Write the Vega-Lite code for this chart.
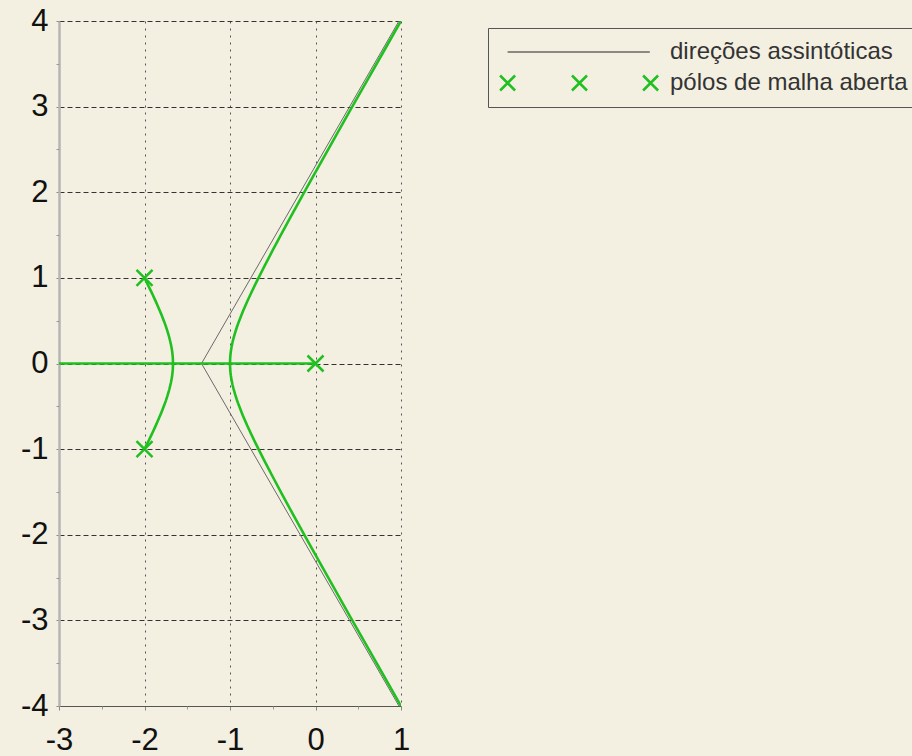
{
  "$schema": "https://vega.github.io/schema/vega-lite/v6.json",
  "width": 342,
  "height": 685,
  "autosize": {"type": "none"},
  "padding": {"left": 59, "top": 21, "right": 511, "bottom": 50},
  "background": "#f3efe1",
  "config": {
    "view": {"stroke": null},
    "font": "Liberation Sans",
    "axis": {"labelFont": "Liberation Sans", "titleFont": "Liberation Sans"},
    "legend": {"labelFont": "Liberation Sans"}
  },
  "datasets": {
    "asym": [
      {"b": "up", "i": 0, "x": -1.3333, "y": 0},
      {"b": "up", "i": 1, "x": 0.9761, "y": 4},
      {"b": "dn", "i": 0, "x": -1.3333, "y": 0},
      {"b": "dn", "i": 1, "x": 0.9761, "y": -4}
    ],
    "locus": [
      {"b": "R", "i": 0, "x": -3, "y": 0},
      {"b": "R", "i": 1, "x": 0, "y": 0},
      {"b": "L", "i": 0, "x": -2, "y": 1},
      {"b": "L", "i": 1, "x": -1.97, "y": 0.9395},
      {"b": "L", "i": 2, "x": -1.95, "y": 0.8986},
      {"b": "L", "i": 3, "x": -1.92, "y": 0.8362},
      {"b": "L", "i": 4, "x": -1.9, "y": 0.7937},
      {"b": "L", "i": 5, "x": -1.87, "y": 0.7285},
      {"b": "L", "i": 6, "x": -1.85, "y": 0.6837},
      {"b": "L", "i": 7, "x": -1.82, "y": 0.6142},
      {"b": "L", "i": 8, "x": -1.8, "y": 0.5657},
      {"b": "L", "i": 9, "x": -1.77, "y": 0.4886},
      {"b": "L", "i": 10, "x": -1.75, "y": 0.433},
      {"b": "L", "i": 11, "x": -1.73, "y": 0.3724},
      {"b": "L", "i": 12, "x": -1.71, "y": 0.3038},
      {"b": "L", "i": 13, "x": -1.69, "y": 0.2198},
      {"b": "L", "i": 14, "x": -1.68, "y": 0.1649},
      {"b": "L", "i": 15, "x": -1.675, "y": 0.1299},
      {"b": "L", "i": 16, "x": -1.67, "y": 0.0819},
      {"b": "L", "i": 17, "x": -1.668, "y": 0.0517},
      {"b": "L", "i": 18, "x": -1.6667, "y": 0},
      {"b": "L", "i": 19, "x": -1.668, "y": -0.0517},
      {"b": "L", "i": 20, "x": -1.67, "y": -0.0819},
      {"b": "L", "i": 21, "x": -1.675, "y": -0.1299},
      {"b": "L", "i": 22, "x": -1.68, "y": -0.1649},
      {"b": "L", "i": 23, "x": -1.69, "y": -0.2198},
      {"b": "L", "i": 24, "x": -1.71, "y": -0.3038},
      {"b": "L", "i": 25, "x": -1.73, "y": -0.3724},
      {"b": "L", "i": 26, "x": -1.75, "y": -0.433},
      {"b": "L", "i": 27, "x": -1.77, "y": -0.4886},
      {"b": "L", "i": 28, "x": -1.8, "y": -0.5657},
      {"b": "L", "i": 29, "x": -1.82, "y": -0.6142},
      {"b": "L", "i": 30, "x": -1.85, "y": -0.6837},
      {"b": "L", "i": 31, "x": -1.87, "y": -0.7285},
      {"b": "L", "i": 32, "x": -1.9, "y": -0.7937},
      {"b": "L", "i": 33, "x": -1.92, "y": -0.8362},
      {"b": "L", "i": 34, "x": -1.95, "y": -0.8986},
      {"b": "L", "i": 35, "x": -1.97, "y": -0.9395},
      {"b": "L", "i": 36, "x": -2, "y": -1},
      {"b": "C", "i": 0, "x": 1, "y": 4},
      {"b": "C", "i": 1, "x": 0.8, "y": 3.6497},
      {"b": "C", "i": 2, "x": 0.6, "y": 3.2985},
      {"b": "C", "i": 3, "x": 0.4, "y": 2.9462},
      {"b": "C", "i": 4, "x": 0.2, "y": 2.5923},
      {"b": "C", "i": 5, "x": 0, "y": 2.2361},
      {"b": "C", "i": 6, "x": -0.1, "y": 2.0567},
      {"b": "C", "i": 7, "x": -0.2, "y": 1.8762},
      {"b": "C", "i": 8, "x": -0.3, "y": 1.6941},
      {"b": "C", "i": 9, "x": -0.4, "y": 1.51},
      {"b": "C", "i": 10, "x": -0.5, "y": 1.3229},
      {"b": "C", "i": 11, "x": -0.6, "y": 1.1314},
      {"b": "C", "i": 12, "x": -0.7, "y": 0.9327},
      {"b": "C", "i": 13, "x": -0.75, "y": 0.8292},
      {"b": "C", "i": 14, "x": -0.8, "y": 0.7211},
      {"b": "C", "i": 15, "x": -0.85, "y": 0.6062},
      {"b": "C", "i": 16, "x": -0.9, "y": 0.4796},
      {"b": "C", "i": 17, "x": -0.92, "y": 0.4233},
      {"b": "C", "i": 18, "x": -0.94, "y": 0.3617},
      {"b": "C", "i": 19, "x": -0.96, "y": 0.2912},
      {"b": "C", "i": 20, "x": -0.97, "y": 0.2504},
      {"b": "C", "i": 21, "x": -0.98, "y": 0.203},
      {"b": "C", "i": 22, "x": -0.99, "y": 0.1425},
      {"b": "C", "i": 23, "x": -0.995, "y": 0.1004},
      {"b": "C", "i": 24, "x": -0.998, "y": 0.0633},
      {"b": "C", "i": 25, "x": -1, "y": 0},
      {"b": "C", "i": 26, "x": -0.998, "y": -0.0633},
      {"b": "C", "i": 27, "x": -0.995, "y": -0.1004},
      {"b": "C", "i": 28, "x": -0.99, "y": -0.1425},
      {"b": "C", "i": 29, "x": -0.98, "y": -0.203},
      {"b": "C", "i": 30, "x": -0.97, "y": -0.2504},
      {"b": "C", "i": 31, "x": -0.96, "y": -0.2912},
      {"b": "C", "i": 32, "x": -0.94, "y": -0.3617},
      {"b": "C", "i": 33, "x": -0.92, "y": -0.4233},
      {"b": "C", "i": 34, "x": -0.9, "y": -0.4796},
      {"b": "C", "i": 35, "x": -0.85, "y": -0.6062},
      {"b": "C", "i": 36, "x": -0.8, "y": -0.7211},
      {"b": "C", "i": 37, "x": -0.75, "y": -0.8292},
      {"b": "C", "i": 38, "x": -0.7, "y": -0.9327},
      {"b": "C", "i": 39, "x": -0.6, "y": -1.1314},
      {"b": "C", "i": 40, "x": -0.5, "y": -1.3229},
      {"b": "C", "i": 41, "x": -0.4, "y": -1.51},
      {"b": "C", "i": 42, "x": -0.3, "y": -1.6941},
      {"b": "C", "i": 43, "x": -0.2, "y": -1.8762},
      {"b": "C", "i": 44, "x": -0.1, "y": -2.0567},
      {"b": "C", "i": 45, "x": 0, "y": -2.2361},
      {"b": "C", "i": 46, "x": 0.2, "y": -2.5923},
      {"b": "C", "i": 47, "x": 0.4, "y": -2.9462},
      {"b": "C", "i": 48, "x": 0.6, "y": -3.2985},
      {"b": "C", "i": 49, "x": 0.8, "y": -3.6497},
      {"b": "C", "i": 50, "x": 1, "y": -4}
    ],
    "poles": [
      {"x": 0, "y": 0},
      {"x": -2, "y": 1},
      {"x": -2, "y": -1}
    ],
    "legend": [
      {"series": "direções assintóticas", "x": 0, "y": 0},
      {"series": "pólos de malha aberta", "x": 0, "y": 0}
    ]
  },
  "layer": [
    {
      "data": {"name": "asym"},
      "mark": {"type": "line", "stroke": "#6a6a6a", "strokeWidth": 1, "clip": true},
      "encoding": {
        "x": {
          "field": "x", "type": "quantitative",
          "scale": {"domain": [-3, 1], "nice": false, "zero": false},
          "axis": {
            "orient": "bottom", "title": null, "values": [-3, -2, -1, 0, 1],
            "labelExpr": "'' + datum.value",
            "labelFontSize": 31, "labelColor": "#111", "labelPadding": 15, "labelFlush": false, "labelOverlap": false,
            "tickSize": 4, "tickColor": "#888",
            "domainColor": "#555", "domainWidth": 1,
            "grid": true, "gridDash": [2, 5], "gridColor": "#555", "gridWidth": 1
          }
        },
        "y": {
          "field": "y", "type": "quantitative",
          "scale": {"domain": [-4, 4], "nice": false, "zero": false},
          "axis": {
            "orient": "left", "title": null, "values": [-4, -3, -2, -1, 0, 1, 2, 3, 4],
            "labelExpr": "'' + datum.value",
            "labelFontSize": 31, "labelColor": "#111", "labelPadding": 8, "labelOverlap": false,
            "tickSize": 3, "tickColor": "#888",
            "domainColor": "#b5b5b5", "domainWidth": 2.5,
            "grid": true, "gridDash": [5, 3], "gridColor": "#333", "gridWidth": 1
          }
        },
        "detail": {"field": "b"},
        "order": {"field": "i"}
      }
    },
    {
      "data": {"name": "locus"},
      "mark": {"type": "line", "stroke": "#20c020", "strokeWidth": 2.6, "clip": true},
      "encoding": {
        "x": {
          "field": "x", "type": "quantitative",
          "axis": {"orient": "bottom", "title": null, "values": [-2.5, -1.5, -0.5, 0.5], "labels": false, "grid": false, "domain": false, "tickSize": 3, "tickColor": "#999"}
        },
        "y": {
          "field": "y", "type": "quantitative",
          "axis": {"orient": "left", "title": null, "values": [-3.5, -2.5, -1.5, -0.5, 0.5, 1.5, 2.5, 3.5], "labels": false, "grid": false, "domain": false, "tickSize": 3, "tickColor": "#999"}
        },
        "detail": {"field": "b"},
        "order": {"field": "i"}
      }
    },
    {
      "data": {"name": "poles"},
      "mark": {"type": "point", "shape": "M-1,-1L1,1M-1,1L1,-1", "size": 256, "filled": false, "stroke": "#20c020", "strokeWidth": 2.5, "opacity": 1},
      "encoding": {
        "x": {"field": "x", "type": "quantitative", "axis": null},
        "y": {"field": "y", "type": "quantitative", "axis": null}
      }
    },
    {
      "data": {"name": "legend"},
      "mark": {"type": "point", "filled": false, "opacity": 0, "size": 24964},
      "encoding": {
        "x": {"field": "x", "type": "quantitative", "axis": null},
        "y": {"field": "y", "type": "quantitative", "axis": null},
        "color": {
          "field": "series", "type": "nominal",
          "scale": {"domain": ["direções assintóticas", "pólos de malha aberta"], "range": ["#222222", "#20c020"]},
          "legend": {"title": null, "orient": "none", "legendX": 429, "legendY": 7, "padding": 11, "strokeColor": "#555", "fillColor": "#f3efe1", "symbolSize": 24964, "symbolOpacity": 1, "clipHeight": 26, "rowPadding": 5, "labelOffset": 10, "labelFontSize": 24, "labelColor": "#333", "labelLimit": 500}
        },
        "shape": {
          "field": "series", "type": "nominal",
          "scale": {"domain": ["direções assintóticas", "pólos de malha aberta"], "range": ["M-0.91,0L0.89,0", "M-1.005,-0.095L-0.815,0.095M-1.005,0.095L-0.815,-0.095M-0.095,-0.095L0.095,0.095M-0.095,0.095L0.095,-0.095M0.805,-0.095L0.995,0.095M0.805,0.095L0.995,-0.095"]},
          "legend": {"title": null, "orient": "none", "legendX": 429, "legendY": 7, "padding": 11, "strokeColor": "#555", "fillColor": "#f3efe1", "symbolSize": 24964, "symbolOpacity": 1, "clipHeight": 26, "rowPadding": 5, "labelOffset": 10, "labelFontSize": 24, "labelColor": "#333", "labelLimit": 500}
        },
        "strokeWidth": {
          "field": "series", "type": "nominal",
          "scale": {"type": "ordinal", "domain": ["direções assintóticas", "pólos de malha aberta"], "range": [1, 2.5]},
          "legend": {"title": null, "orient": "none", "legendX": 429, "legendY": 7, "padding": 11, "strokeColor": "#555", "fillColor": "#f3efe1", "symbolSize": 24964, "symbolOpacity": 1, "clipHeight": 26, "rowPadding": 5, "labelOffset": 10, "labelFontSize": 24, "labelColor": "#333", "labelLimit": 500}
        }
      }
    }
  ],
  "resolve": {"axis": {"x": "independent", "y": "independent"}}
}
